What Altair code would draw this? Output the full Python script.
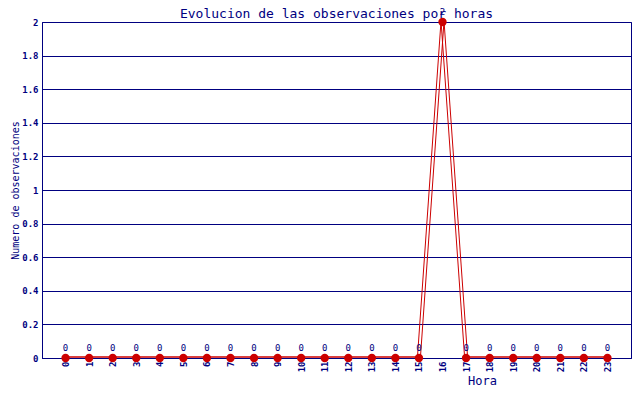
import altair as alt
import pandas as pd

# Observaciones por hora
horas = list(range(24))
observaciones = [0, 0, 0, 0, 0, 0, 0, 0, 0, 0, 0, 0, 0, 0, 0, 0, 2, 0, 0, 0, 0, 0, 0, 0]
y_ticks = [0, 0.2, 0.4, 0.6, 0.8, 1, 1.2, 1.4, 1.6, 1.8, 2]

df = pd.DataFrame({"hora": horas, "obs": observaciones})

NAVY = "#000080"
RED = "#cc0000"
FONT = "DejaVu Sans Mono"

x = alt.X(
    "hora:O",
    title="Hora",
    scale=alt.Scale(type="point", padding=1),
    axis=alt.Axis(
        labelAngle=-90, labelFontSize=9, labelFontWeight="bold", labelColor=NAVY,
        labelPadding=3, ticks=False, domainColor=NAVY, grid=False,
        titleColor=NAVY, titleFontSize=12, titleFontWeight="normal",
        titleX=440, titleY=17, titleFont=FONT, labelFont=FONT,
    ),
)
y = alt.Y(
    "obs:Q",
    title="Numero de observaciones",
    scale=alt.Scale(domain=[0, 2], nice=False),
    axis=alt.Axis(
        values=y_ticks, labelFontSize=9, labelFontWeight="bold", labelColor=NAVY,
        labelPadding=4, ticks=False, domainColor=NAVY, gridColor=NAVY, gridOpacity=1,
        titleColor=NAVY, titleFontSize=10, titleFontWeight="normal", titleFont=FONT,
        labelFont=FONT, titleX=-22,
        labelExpr="datum.value == 0 ? '0' : format(datum.value, '.1~f')",
    ),
)

base = alt.Chart(df).encode(x=x, y=y)

linea_a = base.mark_line(color=RED, strokeWidth=1, xOffset=-1.5, yOffset=-1)
linea_b = base.mark_line(color=RED, strokeWidth=1, xOffset=1.5, yOffset=-1)
puntos = base.mark_circle(color=RED, size=70, opacity=1)
etiquetas = base.mark_text(
    color=NAVY, font=FONT, fontSize=9, dy=-5, baseline="bottom"
).encode(text="obs:Q")

chart = (
    alt.layer(linea_a, linea_b, puntos, etiquetas)
    .properties(
        width=589,
        height=336,
        autosize=alt.AutoSizeParams(type="none"),
        padding={"left": 34, "top": 14, "right": 1, "bottom": 30},
        title=alt.Title(
            "Evolucion de las observaciones por horas",
            font=FONT, fontSize=13, fontWeight="normal", color=NAVY,
            offset=1, dy=14,
        ),
    )
    .configure_view(stroke=NAVY, strokeWidth=1)
)

chart.save("out.html", embed_options={"renderer": "svg", "actions": False})
